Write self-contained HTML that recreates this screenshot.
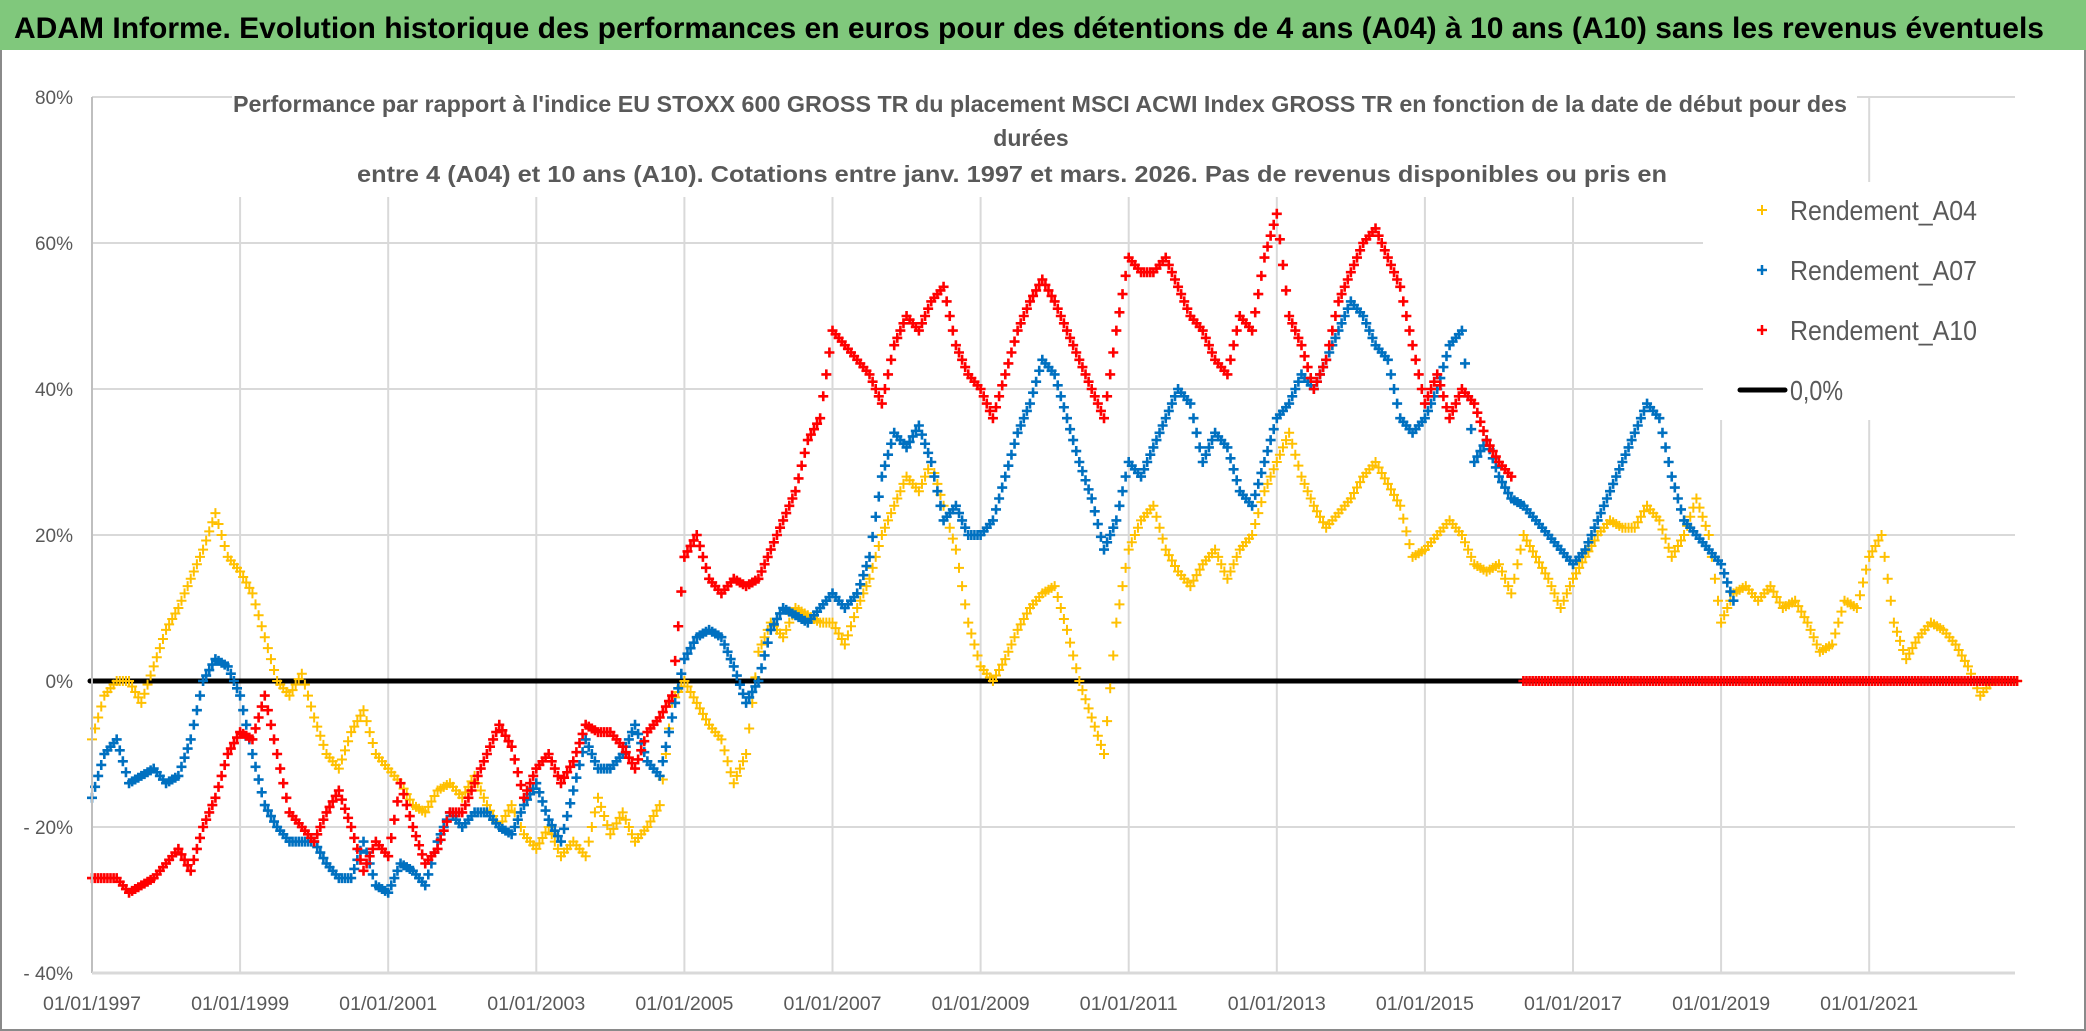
<!DOCTYPE html>
<html><head><meta charset="utf-8"><style>
html,body{margin:0;padding:0;background:#fff;}
svg{display:block;}
text{font-family:"Liberation Sans",sans-serif;}
</style></head><body>
<svg id="chart" width="2086" height="1031" viewBox="0 0 2086 1031" xmlns="http://www.w3.org/2000/svg">
<rect x="0" y="0" width="2086" height="1031" fill="#fff"/>
<rect x="1" y="1" width="2084" height="1029" fill="none" stroke="#8a8a8a" stroke-width="2"/>
<rect x="0" y="0" width="2086" height="50" fill="#80c87c"/>
<text x="14" y="38" font-size="30" font-weight="bold" fill="#000" textLength="2030" lengthAdjust="spacingAndGlyphs">ADAM Informe. Evolution historique des performances en euros pour des détentions de 4 ans (A04) à 10 ans (A10) sans les revenus éventuels</text>
<g id="grid"></g>
<g id="zero"></g>
<g id="marks"></g>
<rect x="232" y="85" width="1625" height="112" fill="#fff"/>
<text x="233" y="112" font-size="23" font-weight="bold" fill="#595959" textLength="1614" lengthAdjust="spacingAndGlyphs">Performance par rapport à l'indice EU STOXX 600 GROSS TR  du placement MSCI ACWI Index GROSS TR en fonction de la date de début pour des</text>
<text x="1031" y="146" font-size="23" font-weight="bold" fill="#595959" text-anchor="middle">durées</text>
<text x="357" y="182" font-size="23" font-weight="bold" fill="#595959" textLength="1310" lengthAdjust="spacingAndGlyphs">entre 4 (A04) et 10 ans (A10). Cotations entre janv. 1997 et mars. 2026. Pas de revenus disponibles ou pris en</text>
<g>
<rect x="1703" y="182" width="312" height="238" fill="#fff"/>
<g><path d="M1757 210h10M1762 205v10" stroke="#ffc000" stroke-width="2"/><text x="1790" y="220" font-size="28" fill="#595959" textLength="187" lengthAdjust="spacingAndGlyphs">Rendement_A04</text></g>
<g><path d="M1757 270h10M1762 265v10" stroke="#0070c0" stroke-width="2.5"/><text x="1790" y="280" font-size="28" fill="#595959" textLength="187" lengthAdjust="spacingAndGlyphs">Rendement_A07</text></g>
<g><path d="M1757 330h10M1762 325v10" stroke="#ff0000" stroke-width="2.5"/><text x="1790" y="340" font-size="28" fill="#595959" textLength="187" lengthAdjust="spacingAndGlyphs">Rendement_A10</text></g>
<g><path d="M1740 390h45" stroke="#000" stroke-width="5" stroke-linecap="round"/><text x="1790" y="400" font-size="28" fill="#595959" textLength="53" lengthAdjust="spacingAndGlyphs">0,0%</text></g>
</g>
<g id="axes"></g>
</svg>
<script>
const startYear = 1997;
const step = 1/6;
const yTicks = [80, 60, 40, 20, 0, -20, -40];
const yTickLabels = ["80%", "60%", "40%", "20%", "0%", "- 20%", "- 40%"];
const xTickLabels = ["01/01/1997","01/01/1999","01/01/2001","01/01/2003","01/01/2005","01/01/2007","01/01/2009","01/01/2011","01/01/2013","01/01/2015","01/01/2017","01/01/2019","01/01/2021"];
const xTickYears = [1997,1999,2001,2003,2005,2007,2009,2011,2013,2015,2017,2019,2021];
const a04 = [
-8,-2,0,0,-3,2, 7,10,14,18,23,17, 15,12,6,0,-2,1, -5,-10,-12,-7,-4,-10,
-12,-14,-17,-18,-15,-14, -16,-13,-17,-20,-17,-21, -23,-20,-24,-22,-24,-16, -21,-18,-22,-20,-17,-3,
0,-3,-6,-8,-14,-10, 4,8,6,10,9,8, 8,5,10,14,20,24, 28,26,30,24,18,8,
2,0,3,7,10,12, 13,7,0,-5,-10,8, 18,22,24,18,15,13, 16,18,14,18,20,26,
30,34,28,24,21,23, 25,28,30,27,24,17, 18,20,22,20,16,15, 16,12,20,17,14,10,
14,17,20,22,21,21, 24,22,17,20,25,20, 8,12,13,11,13,10, 11,8,4,5,11,10,
17,20,8,3,6,8, 7,5,2,-2,0,0, 0];
const a07 = [
-16,-10,-8,-14,-13,-12, -14,-13,-8,0,3,2, -2,-10,-17,-20,-22,-22, -22,-25,-27,-27,-22,-28,
-29,-25,-26,-28,-22,-18, -20,-18,-18,-20,-21,-17, -14,-19,-22,-15,-8,-12, -12,-10,-6,-11,-13,-5,
3,6,7,6,2,-3, 0,7,10,9,8,10, 12,10,12,17,28,34, 32,35,30,22,24,20,
20,22,28,34,38,44, 42,36,30,25,18,22, 30,28,32,36,40,38, 30,34,32,26,24,30,
36,38,42,40,44,48, 52,50,46,44,36,34, 36,40,46,48,30,33, 28,25,24,22,20,18,
16,18,22,26,30,34, 38,36,28,22,20,18, 16,11];
const a10 = [
-27,-27,-27,-29,-28,-27, -25,-23,-26,-20,-16,-10, -7,-8,-2,-10,-18,-20, -22,-18,-15,-20,-26,-22,
-24,-14,-20,-25,-23,-18, -18,-14,-10,-6,-9,-16, -12,-10,-14,-11,-6,-7, -7,-9,-12,-7,-5,-2,
17,20,14,12,14,13, 14,18,22,26,33,36, 48,46,44,42,38,46, 50,48,52,54,46,42,
40,36,42,48,52,55, 52,48,44,40,36,48, 58,56,56,58,54,50, 48,44,42,50,48,58,
64,50,46,40,44,52, 56,60,62,58,54,46, 38,42,36,40,38,33, 30,28];
const a10TailStart = 2016.33;
const a10Tail = [0,0,0,0,0, 0,0,0,0,0,0, 0,0,0,0,0,0, 0,0,0,0,0,0, 0,0,0,0,0,0, 0,0,0,0,0,0, 0,0,0,0,0,0];

const NS = "http://www.w3.org/2000/svg";
const X0 = 92, PXY = 74.05, Y0 = 681, PXV = 7.3, XR = 2015;
function xScale(yr){ return X0 + (yr - startYear) * PXY; }
function yScale(v){ return Y0 - v * PXV; }
function mk(tag, attrs, parent){ const e = document.createElementNS(NS, tag); for (const k in attrs) e.setAttribute(k, attrs[k]); parent.appendChild(e); return e; }

const grid = document.getElementById('grid');
yTicks.forEach(v => {
  const l = mk('line', {x1: X0, x2: XR, y1: yScale(v), y2: yScale(v), stroke: '#d9d9d9', 'stroke-width': 2}, grid);
  
  
});
xTickYears.forEach(y => {
  const l = mk('line', {x1: xScale(y), x2: xScale(y), y1: yScale(80), y2: yScale(-40), stroke: '#d9d9d9', 'stroke-width': 2}, grid);
  
  
});
const zl = mk('line', {x1: X0 - 2, x2: XR, y1: yScale(0), y2: yScale(0), stroke: '#000', 'stroke-width': 5, 'stroke-linecap': 'round'}, document.getElementById('zero'));



const marks = document.getElementById('marks');
const SUB = 4;
function cross(x, y){ return 'M' + (x - 5) + ' ' + y + 'h10M' + x + ' ' + (y - 5) + 'v10'; }
function drawSeries(arr, start, color, name, sw){
  const g = mk('g', {stroke: color, 'stroke-width': sw, fill: 'none'}, marks);
  
  
  let d = '';
  arr.forEach((v, i) => {
    const x = xScale(start + i * step), y = yScale(v);
    d += cross(x, y);
    if (i + 1 < arr.length) {
      const x2 = xScale(start + (i + 1) * step), y2 = yScale(arr[i + 1]);
      for (let k = 1; k < SUB; k++) {
        const f = k / SUB;
        d += cross(x + (x2 - x) * f, y + (y2 - y) * f);
      }
    }
  });
  const p = mk('path', {d: d}, g);
  
  
}
drawSeries(a04, startYear, '#ffc000', 'series-a04', 2);
drawSeries(a07, startYear, '#0070c0', 'series-a07', 2.6);
drawSeries(a10, startYear, '#ff0000', 'series-a10', 2.6);
drawSeries(a10Tail, a10TailStart, '#ff0000', 'series-a10-tail', 2.6);

const axes = document.getElementById('axes');
mk('line', {x1: X0, x2: X0, y1: yScale(80), y2: yScale(-40), stroke: '#bfbfbf', 'stroke-width': 2}, axes);
mk('line', {x1: X0, x2: XR, y1: yScale(-40), y2: yScale(-40), stroke: '#d9d9d9', 'stroke-width': 3}, axes);
yTicks.forEach((v, i) => {
  const t = mk('text', {x: 73, y: yScale(v) + 7, 'font-size': 19, fill: '#595959', 'text-anchor': 'end'}, axes);
  t.textContent = yTickLabels[i];
  
  
});
xTickYears.forEach((y, i) => {
  const t = mk('text', {x: xScale(y), y: 1010, 'font-size': 19, fill: '#595959', 'text-anchor': 'middle', textLength: 98, lengthAdjust: 'spacingAndGlyphs'}, axes);
  t.textContent = xTickLabels[i];
  
  
});
</script>
</body></html>
